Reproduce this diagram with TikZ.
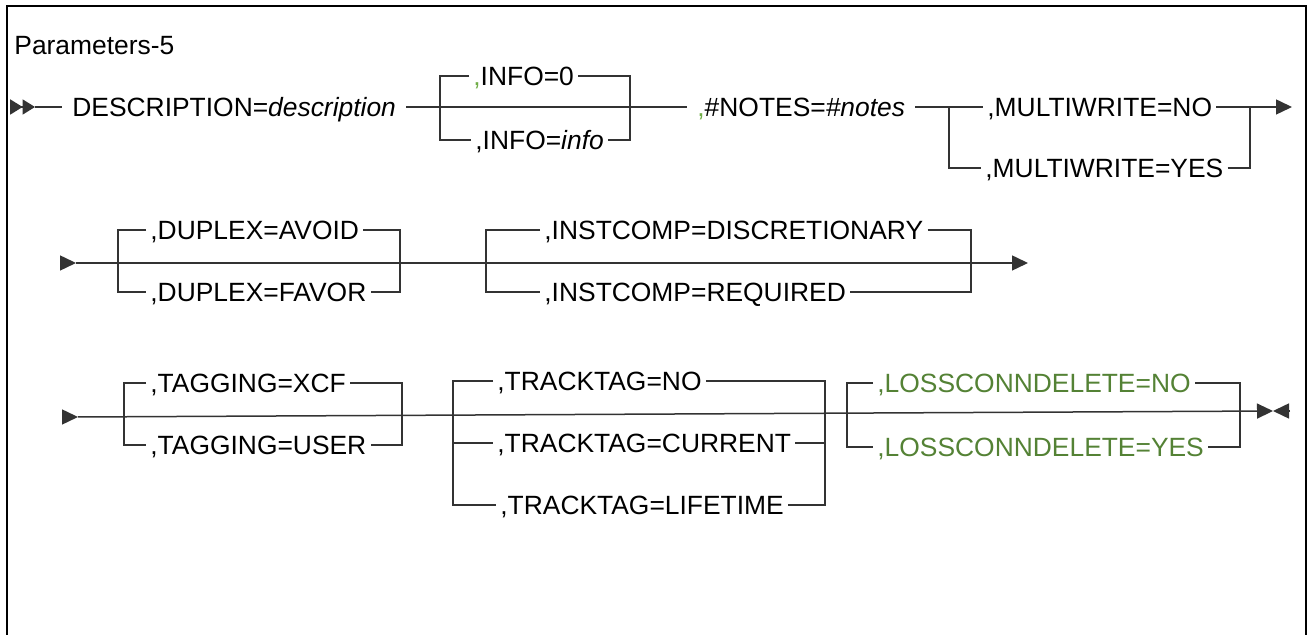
\documentclass[tikz,border=0pt]{standalone}
\usepackage{fontspec}
\setmainfont{Liberation Sans}
\usetikzlibrary{arrows.meta}
\definecolor{optgreen}{HTML}{548235}
\definecolor{commagreen}{HTML}{70AD47}
\definecolor{railgray}{HTML}{333333}
\tikzset{
  rail/.style={line width=0.75pt, draw=railgray},
  kw/.style={font=\fontsize{13.2pt}{15pt}\selectfont, inner xsep=2pt, inner ysep=0pt,
    text height=9.4pt, text depth=0pt, anchor=west},
  req/.style={kw, inner xsep=5pt},
  tip/.style={-{Triangle[length=8pt,width=7.5pt]}},
}

\begin{document}
\begin{tikzpicture}[x=0.5pt,y=-0.5pt]
    \useasboundingbox (0,0) rectangle (1308,635);
		\draw [line width=1.25pt] (7,640) -- (7,6) -- (1306,6) -- (1306,640); %枠
		
		\node [kw, inner xsep=0pt] (title) at (14,45) {Parameters-5};
		
		% 1
		\coordinate (s1) at (10,107);
		\coordinate (s1t) at (35,107);
		\coordinate (e1) at (1292,107);
		\coordinate (il) at (440,107);
		\coordinate (ir) at (630,107);
		\coordinate (ml) at (949,107);
		\coordinate (mr) at (1250,107);
		
		\node [req] (desc) at (62,107) {DESCRIPTION=\textit{description}};
		\node [kw] (info0) at (469,76) {{\color{commagreen},}INFO=0};
		\node [kw] (info) at (471,140) {,INFO=\textit{info}};
		\node [req] (notes) at (687,107) {{\color{commagreen},}\#NOTES=\textit{\#notes}};
		\node [kw] (mwno) at (983,107) {,MULTIWRITE=NO};
		\node [kw] (mwyes) at (981,168) {,MULTIWRITE=YES};
		
		\draw [rail, -{Triangle[length=6.2pt,width=7.5pt]Triangle[length=6.2pt,width=7.5pt]}] (s1) -- (s1t);
		\draw [rail] (s1t) -- (desc.west);
		\draw [rail] (desc.east) -- (notes.west);
		\draw [rail] (info0.west) -- (info0.west -| il) -- (info.west -| il) -- (info.west);
		\draw [rail] (info0.east) -- (info0.east -| ir) -- (info.east -| ir) -- (info.east);
		\draw [rail] (notes.east) -- (mwno.west);
		\draw [rail] (ml) -- (mwyes.west -| ml) -- (mwyes.west);
		\draw [rail, tip] (mwno.east) -- (e1);
		\draw [rail] (mwyes.east) -- (mwyes.east -| mr) -- (mr);
		
		% 2
		\coordinate (s2) at (60,263);
		\coordinate (s2t) at (76,263);
		\coordinate (e2) at (1028,263);
		\coordinate (dl) at (118,263);
		\coordinate (dr) at (400,263);
		\coordinate (cl) at (486,263);
		\coordinate (cr) at (971,263);
		
		\node [kw] (dupav) at (146,230) {,DUPLEX=AVOID};
		\node [kw] (dupfa) at (146,292) {,DUPLEX=FAVOR};
		\node [kw] (icdis) at (540,230) {,INSTCOMP=DISCRETIONARY};
		\node [kw] (icreq) at (540,292) {,INSTCOMP=REQUIRED};
		
		\draw [rail, tip] (s2) -- (s2t);
		\draw [rail, tip] (s2t) -- (e2);
		\draw [rail] (dupav.west) -- (dupav.west -| dl) -- (dupfa.west -| dl) -- (dupfa.west);
		\draw [rail] (dupav.east) -- (dupav.east -| dr) -- (dupfa.east -| dr) -- (dupfa.east);
		\draw [rail] (icdis.west) -- (icdis.west -| cl) -- (icreq.west -| cl) -- (icreq.west);
		\draw [rail] (icdis.east) -- (icdis.east -| cr) -- (icreq.east -| cr) -- (icreq.east);
		
		% 3
		\coordinate (s3) at (62,417);
		\coordinate (s3t) at (78,417);
		\coordinate (e3) at (1273,411);
		\coordinate (e3b) at (1290,411);
		\coordinate (gl) at (124,417);
		\coordinate (gr) at (402,417);
		\coordinate (tl) at (453,415);
		\coordinate (tr) at (825,413);
		\coordinate (ll) at (847,413);
		\coordinate (lr) at (1240,411);
		
		\node [kw] (tgxcf) at (146,383) {,TAGGING=XCF};
		\node [kw] (tguser) at (146,445) {,TAGGING=USER};
		\node [kw] (ttno) at (493,381) {,TRACKTAG=NO};
		\node [kw] (ttcur) at (493,443) {,TRACKTAG=CURRENT};
		\node [kw] (ttlife) at (496,505) {,TRACKTAG=LIFETIME};
		\node [kw, text=optgreen] (lcno) at (873,383) {,LOSSCONNDELETE=NO};
		\node [kw, text=optgreen] (lcyes) at (873,447) {,LOSSCONNDELETE=YES};
		
		\draw [rail, tip] (s3) -- (s3t);
		\draw [rail, tip] (s3t) -- (e3);
		\draw [rail, tip] (e3b) -- (e3);
		\draw [rail] (tgxcf.west) -- (tgxcf.west -| gl) -- (tguser.west -| gl) -- (tguser.west);
		\draw [rail] (tgxcf.east) -- (tgxcf.east -| gr) -- (tguser.east -| gr) -- (tguser.east);
		\draw [rail] (ttno.west) -- (ttno.west -| tl) -- (ttlife.west -| tl) -- (ttlife.west);
		\draw [rail] (ttcur.west -| tl) -- (ttcur.west);
		\draw [rail] (ttno.east) -- (ttno.east -| tr) -- (ttlife.east -| tr) -- (ttlife.east);
		\draw [rail] (ttcur.east) -- (ttcur.east -| tr);
		\draw [rail] (lcno.west) -- (lcno.west -| ll) -- (lcyes.west -| ll) -- (lcyes.west);
		\draw [rail] (lcno.east) -- (lcno.east -| lr) -- (lcyes.east -| lr) -- (lcyes.east);
\end{tikzpicture}
\end{document}
